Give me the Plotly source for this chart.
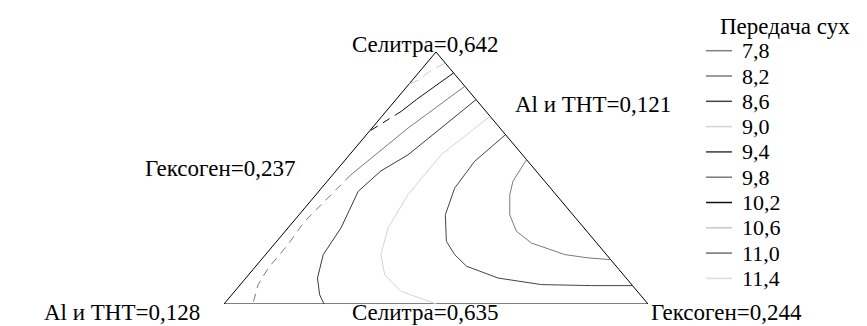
import plotly.graph_objects as go

# Псевдокомпоненты: доля селитры (s) и гексогена (g); Al и ТНТ = 1 - s - g
levels = ["7,8", "8,2", "8,6", "9,0", "9,4", "9,8", "10,2", "10,6", "11,0", "11,4"]
legend_title = "Передача сух"

# изолиния 10,6
c106_s = [0.956, 0.923, 0.888, 0.873]
c106_g = [0.044, 0.023, 0.014, 0.0]
# изолиния 10,2 (сплошной участок, затем пунктир)
c102a_s = [0.917, 0.811, 0.765]
c102a_g = [0.083, 0.048, 0.036]
c102b_s = [0.765, 0.731, 0.692, 0.685]
c102b_g = [0.036, 0.021, 0.005, 0.0]
# изолиния 9,8
c98a_s = [0.864, 0.698, 0.513]
c98a_g = [0.136, 0.085, 0.043]
c98b_s = [0.513, 0.328, 0.235, 0.143, 0.077, 0.0]
c98b_g = [0.043, 0.026, 0.033, 0.033, 0.042, 0.068]
# изолиния 9,4
c94_s = [0.811, 0.619, 0.592, 0.528, 0.447, 0.302, 0.196, 0.103, 0.037, 0.0]
c94_g = [0.189, 0.144, 0.138, 0.106, 0.093, 0.125, 0.136, 0.169, 0.207, 0.236]
# изолиния 9,0
c90_s = [0.745, 0.593, 0.434, 0.302, 0.196, 0.116, 0.050, 0.0]
c90_g = [0.255, 0.216, 0.217, 0.236, 0.272, 0.321, 0.393, 0.501]
# изолиния 8,6
c86_s = [0.672, 0.566, 0.460, 0.354, 0.249, 0.196, 0.150, 0.103, 0.077, 0.073, 0.073]
c86_g = [0.328, 0.308, 0.314, 0.345, 0.400, 0.446, 0.497, 0.595, 0.710, 0.830, 0.927]
# изолиния 8,2
c82_s = [0.573, 0.487, 0.434, 0.354, 0.289, 0.242, 0.196, 0.183, 0.176]
c82_g = [0.427, 0.438, 0.457, 0.497, 0.545, 0.604, 0.706, 0.767, 0.824]

# вершины симплекса
tri_s = [0, 0, 1, 0]
tri_g = [0, 1, 0, 0]

colors = {"7,8": "#808080", "8,2": "#7a7a7a", "8,6": "#444444", "9,0": "#d4d4d4",
          "9,4": "#3a3a3a", "9,8": "#7a7a7a", "10,2": "#111111", "10,6": "#c8c8c8",
          "11,0": "#707070", "11,4": "#dcdcdc"}

W, H = 867, 326


def xy(s, g):
    return [gi + si / 2 for si, gi in zip(s, g)], list(s)


fig = go.Figure()

x, y = xy(tri_s, tri_g)
fig.add_trace(go.Scatter(x=x, y=y, mode="lines", line=dict(color="black", width=1),
                         hoverinfo="skip"))

contours = {
    "8,2": [(c82_s, c82_g, "solid")],
    "8,6": [(c86_s, c86_g, "solid")],
    "9,0": [(c90_s, c90_g, "solid")],
    "9,4": [(c94_s, c94_g, "solid")],
    "9,8": [(c98a_s, c98a_g, "solid"), (c98b_s, c98b_g, "8px,6px")],
    "10,2": [(c102a_s, c102a_g, "solid"), (c102b_s, c102b_g, "8px,6px")],
    "10,6": [(c106_s, c106_g, "10px,6px")],
}

for lev in levels:
    for s, g, dash in contours.get(lev, []):
        x, y = xy(s, g)
        fig.add_trace(go.Scatter(x=x, y=y, mode="lines", name=lev,
                                 line=dict(color=colors[lev], width=1, dash=dash)))

# легенда: образцы линий на отдельных осях (индекс уровня по вертикали)
for i, lev in enumerate(levels):
    fig.add_trace(go.Scatter(x=[0, 0.154], y=[i, i], mode="lines", xaxis="x2", yaxis="y2",
                             line=dict(color=colors[lev], width=1.5), hoverinfo="skip"))
    fig.add_annotation(x=0.2, y=i, xref="x2", yref="y2", text=lev, showarrow=False,
                       xanchor="left", yanchor="middle", font=dict(size=22))
fig.add_annotation(x=0.07, y=-0.95, xref="x2", yref="y2", text=legend_title, showarrow=False,
                   xanchor="left", yanchor="middle", font=dict(size=23))

labels = [
    (0.5, 1.0, "Селитра=0,642", "center", -11, 7.5),
    (0.0, 0.0, "Al и ТНТ=0,128", "right", -22, -8),
    (0.5, 0.0, "Селитра=0,635", "center", -11, -8),
    (1.0, 0.0, "Гексоген=0,244", "left", 1, -8),
    (0.172, 0.538, "Гексоген=0,237", "right", 0, 0),
    (0.682, 0.79, "Al и ТНТ=0,121", "left", 0, 0),
]
for lx, ly, txt, xa, xs, ys in labels:
    fig.add_annotation(x=lx, y=ly, text=txt, showarrow=False, xanchor=xa, yanchor="middle",
                       xshift=xs, yshift=ys, font=dict(size=23))

fig.update_layout(
    width=W, height=H,
    margin=dict(l=0, r=0, t=0, b=0, autoexpand=False),
    paper_bgcolor="white", plot_bgcolor="white",
    font=dict(family="Liberation Serif, Times New Roman, serif", color="black"),
    showlegend=False,
    xaxis=dict(range=[0, 1], visible=False, domain=[216 / W, 640 / W]),
    yaxis=dict(range=[0, 1], visible=False, domain=[30 / H, 282 / H]),
    xaxis2=dict(range=[0, 1], visible=False, domain=[698 / W, 1], anchor="y2"),
    yaxis2=dict(range=[11.197, -1.688], visible=False, domain=[0, 1], anchor="x2"),
)

fig.write_html("out.html")
